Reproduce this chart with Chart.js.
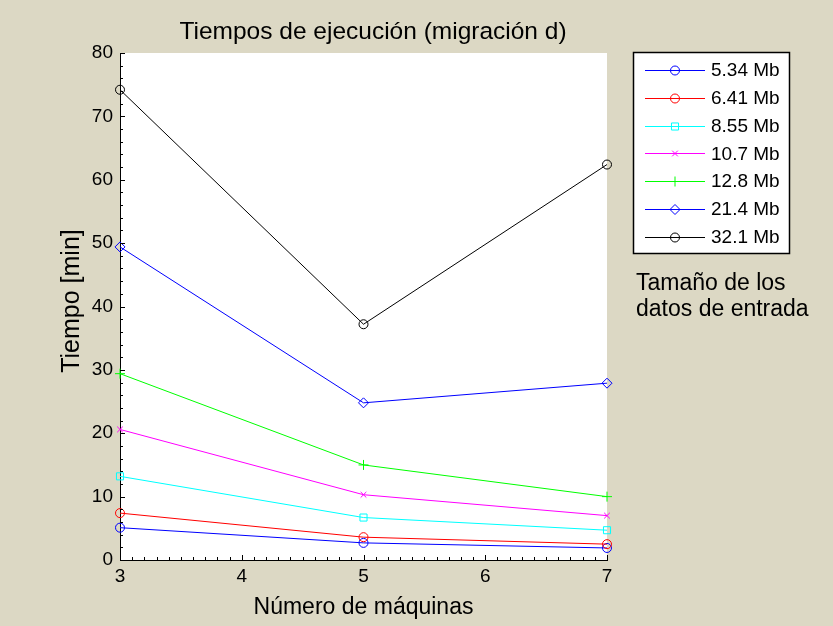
<!DOCTYPE html>
<html>
<head>
<meta charset="utf-8">
<title>Tiempos de ejecución</title>
<script src="https://cdn.jsdelivr.net/npm/chart.js@4.4.1/dist/chart.umd.min.js"></script>
<style>
  html, body { margin: 0; padding: 0; background: #dcd8c4; }
  #wrap { position: relative; width: 833px; height: 626px; }
</style>
</head>
<body>
<div id="wrap"><canvas id="tiempos" width="833" height="626"></canvas></div>
<script>
// Número de máquinas
const machines = [3, 5, 7];
// Tamaño de los datos de entrada
const sizes = ['5.34 Mb', '6.41 Mb', '8.55 Mb', '10.7 Mb', '12.8 Mb', '21.4 Mb', '32.1 Mb'];
// Tiempo [min] per size, one value per machine count
const t534 = [5.1, 2.7, 1.9];
const t641 = [7.4, 3.6, 2.5];
const t855 = [13.2, 6.7, 4.7];
const t107 = [20.6, 10.3, 7.0];
const t128 = [29.4, 15.0, 10.0];
const t214 = [49.4, 24.8, 27.9];
const t321 = [74.2, 37.2, 62.4];
const yTicks = [0, 10, 20, 30, 40, 50, 60, 70, 80];
const xTicks = [3, 4, 5, 6, 7];

const seriesValues = [t534, t641, t855, t107, t128, t214, t321];
const seriesColors = ['#0000ff', '#ff0000', '#00ffff', '#ff00ff', '#00ff00', '#0000ff', '#000000'];
const seriesMarkers = ['circle', 'circle', 'rect', 'crossRot', 'cross', 'rectRot', 'circle'];
const markerSize = { circle: 4.5, rect: 5, crossRot: 4, cross: 5, rectRot: 5 };

const FONT = 'Arial, "Liberation Sans", sans-serif';

const datasets = sizes.map((label, i) => ({
    label: label,
    data: machines.map((m, j) => ({ x: m, y: seriesValues[i][j] })),
    borderColor: seriesColors[i],
    backgroundColor: 'transparent',
    pointBackgroundColor: 'transparent',
    pointBorderColor: seriesColors[i],
    pointStyle: seriesMarkers[i],
    pointRadius: markerSize[seriesMarkers[i]],
    pointBorderWidth: 1,
    borderWidth: 1,
    tension: 0,
    clip: false,
    order: sizes.length - i
}));

// background, white plot area, inward ticks, titles and the legend box
const frame = {
    id: 'frame',
    beforeDraw(chart) {
        const { ctx, chartArea: a } = chart;
        ctx.save();
        ctx.fillStyle = '#dcd8c4';
        ctx.fillRect(0, 0, chart.width, chart.height);
        ctx.fillStyle = '#ffffff';
        ctx.fillRect(a.left, a.top, a.right - a.left, a.bottom - a.top);
        ctx.restore();
    },
    afterDraw(chart) {
        const { ctx, chartArea: a, scales } = chart;
        const xs = scales.x, ys = scales.y;
        ctx.save();
        ctx.strokeStyle = '#000000';
        ctx.lineWidth = 1;
        ctx.beginPath();
        // y ticks: major every 10, minor every 2
        for (let v = 0; v <= 80; v += 2) {
            const py = Math.round(ys.getPixelForValue(v)) + 0.5;
            const len = v % 10 === 0 ? 5 : 3;
            ctx.moveTo(a.left, py);
            ctx.lineTo(a.left + len, py);
        }
        // x ticks: major every 1, minor every 0.1
        for (let k = 30; k <= 70; k++) {
            const px = Math.round(xs.getPixelForValue(k / 10)) + 0.5;
            const len = k % 10 === 0 ? 5 : 3;
            ctx.moveTo(px, a.bottom);
            ctx.lineTo(px, a.bottom - len);
        }
        ctx.stroke();

        ctx.fillStyle = '#000000';
        ctx.textAlign = 'center';
        ctx.textBaseline = 'alphabetic';
        ctx.font = '24.5px ' + FONT;
        ctx.fillText('Tiempos de ejecución (migración d)', 373, 39);
        ctx.font = '23px ' + FONT;
        ctx.fillText('Número de máquinas', (a.left + a.right) / 2, 614);
        ctx.save();
        ctx.font = '25px ' + FONT;
        ctx.translate(79, 301);
        ctx.rotate(-Math.PI / 2);
        ctx.fillText('Tiempo [min]', 0, 0);
        ctx.restore();

        // legend
        const bx = 633.5, by = 52.5, bw = 156, bh = 201;
        ctx.fillStyle = '#ffffff';
        ctx.fillRect(bx, by, bw, bh);
        ctx.strokeStyle = '#000000';
        ctx.lineWidth = 1.5;
        ctx.strokeRect(bx, by, bw, bh);
        ctx.font = '19px ' + FONT;
        ctx.textAlign = 'left';
        ctx.textBaseline = 'middle';
        chart.data.datasets.forEach((ds, i) => {
            const ly = 70 + i * 27.8;
            ctx.strokeStyle = ds.borderColor;
            ctx.lineWidth = 1;
            ctx.beginPath();
            ctx.moveTo(645, Math.round(ly) + 0.5);
            ctx.lineTo(705, Math.round(ly) + 0.5);
            ctx.stroke();
            ctx.fillStyle = 'transparent';
            ctx.strokeStyle = ds.pointBorderColor;
            Chart.helpers.drawPoint(ctx, {
                pointStyle: ds.pointStyle,
                radius: ds.pointRadius,
                borderWidth: 1,
                rotation: 0
            }, 675, Math.round(ly) + 0.5);
            ctx.fillStyle = '#000000';
            ctx.fillText(ds.label, 711, ly + 1);
        });

        ctx.font = '23px ' + FONT;
        ctx.textBaseline = 'alphabetic';
        ctx.fillText('Tamaño de los', 636, 290);
        ctx.fillText('datos de entrada', 636, 316);
        ctx.restore();
    }
};

new Chart(document.getElementById('tiempos'), {
    type: 'line',
    data: { datasets: datasets },
    options: {
        responsive: false,
        animation: false,
        layout: { padding: { left: 0, top: 53, right: 226, bottom: 0 } },
        plugins: { legend: { display: false }, tooltip: { enabled: false } },
        scales: {
            x: {
                type: 'linear',
                min: 3, max: 7,
                afterFit: s => { s.height = 66; },
                afterBuildTicks: s => { s.ticks = xTicks.map(v => ({ value: v })); },
                grid: { display: false, drawTicks: false },
                border: { display: true, color: '#000000', width: 1 },
                ticks: { color: '#000000', padding: 5, font: { family: FONT, size: 19 } }
            },
            y: {
                type: 'linear',
                min: 0, max: 80,
                afterFit: s => { s.width = 120; },
                afterBuildTicks: s => { s.ticks = yTicks.map(v => ({ value: v })); },
                grid: { display: false, drawTicks: false },
                border: { display: true, color: '#000000', width: 1 },
                ticks: { color: '#000000', padding: 7, font: { family: FONT, size: 19 } }
            }
        }
    },
    plugins: [frame]
});
</script>
</body>
</html>
